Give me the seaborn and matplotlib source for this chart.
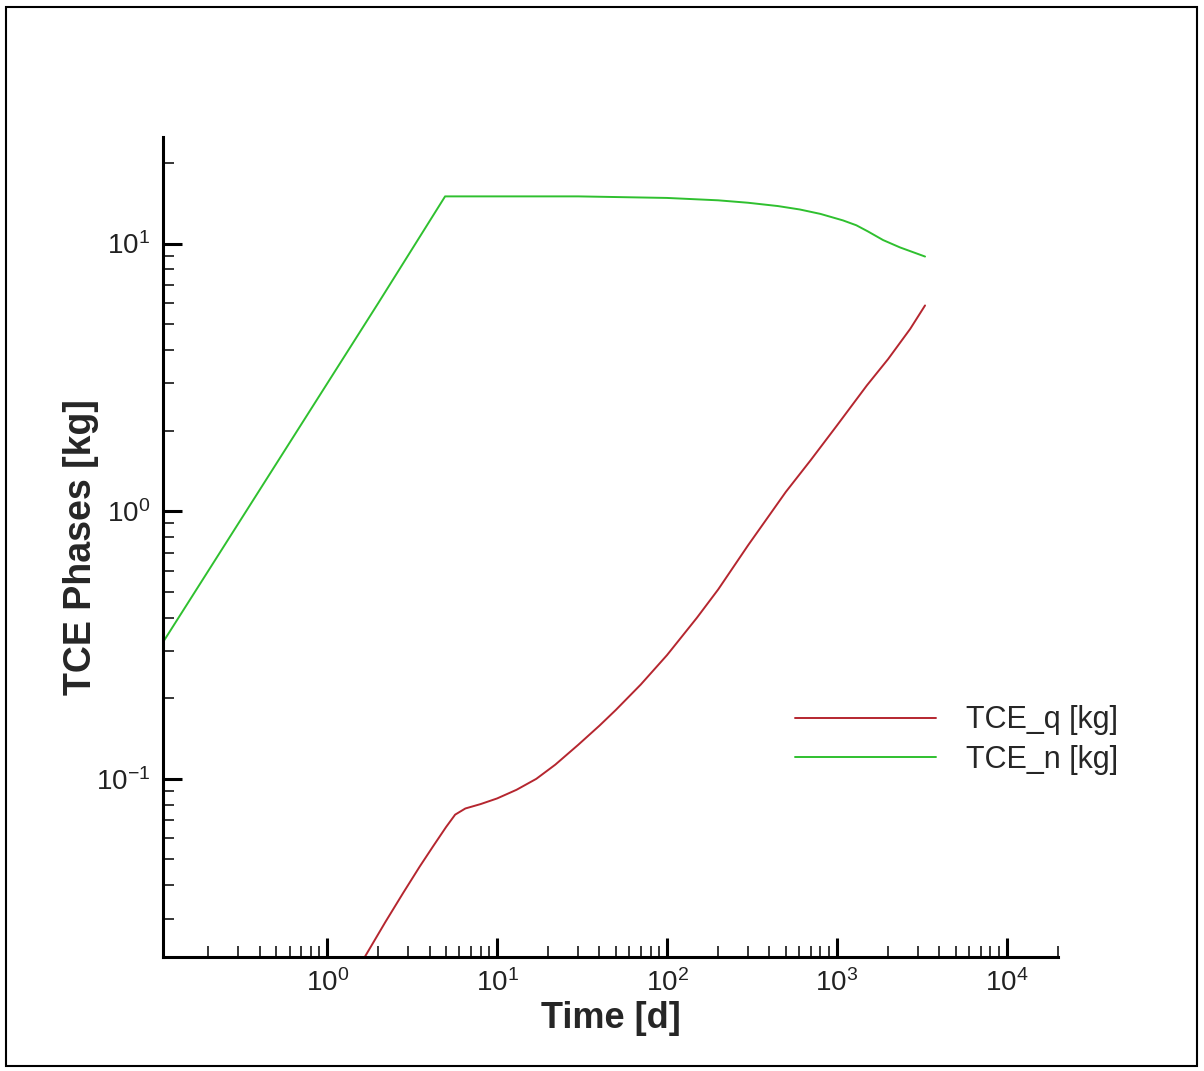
import pandas as pd
import matplotlib
matplotlib.use("Agg")
import matplotlib.pyplot as plt
import seaborn as sns
from matplotlib.patches import Rectangle
from matplotlib.ticker import LogLocator

# TCE mass in each phase over time
time_q = [1.5, 1.67, 2.2, 2.8, 3.5, 4.2, 5.0, 5.66, 6.5, 8, 10, 13, 17, 22, 30, 40, 50,
          70, 100, 150, 200, 300, 500, 700, 1000, 1500, 2000, 2700, 3300]
tce_q = [0.0195, 0.0217, 0.0292, 0.0375, 0.047, 0.056, 0.066, 0.0735, 0.0775, 0.0805,
         0.0845, 0.091, 0.100, 0.113, 0.134, 0.158, 0.181, 0.225, 0.29, 0.40, 0.51, 0.746, 1.18, 1.55,
         2.09, 2.95, 3.7, 4.8, 5.87]

time_n = [0.108, 0.5, 1, 2, 4.94, 10, 30, 100, 200, 300, 450, 605, 800, 1085, 1300, 1520, 1870, 2350, 3300]
tce_n = [0.324, 1.5, 3.0, 6.0, 15.0, 15.0, 15.0, 14.8, 14.5, 14.2, 13.8, 13.4, 12.9, 12.2, 11.7, 11.1,
         10.3, 9.67, 8.94]

series_names = ["TCE_q [kg]", "TCE_n [kg]"]
colors = {"TCE_q [kg]": "#b5262f", "TCE_n [kg]": "#2fc02f"}

df = pd.concat([
    pd.DataFrame({"Time": time_q, "Mass": tce_q, "Phase": series_names[0]}),
    pd.DataFrame({"Time": time_n, "Mass": tce_n, "Phase": series_names[1]}),
])

sns.set_style("white")
plt.rcParams["font.family"] = ["Liberation Sans", "DejaVu Sans"]
plt.rcParams["mathtext.default"] = "regular"

fig = plt.figure(figsize=(12.04, 10.71), dpi=100)
ax = fig.add_axes([163 / 1204, 1 - 957 / 1071, (1058 - 163) / 1204, (957 - 137) / 1071])

sns.lineplot(data=df, x="Time", y="Mass", hue="Phase", hue_order=series_names,
             palette=colors, linewidth=1.4, sort=False, estimator=None, ax=ax)

ax.set_xscale("log")
ax.set_yscale("log")
ax.set_xlim(0.108, 2e4)
ax.set_ylim(0.0216, 25)

ax.xaxis.set_major_locator(LogLocator(base=10, numticks=20))
ax.xaxis.set_minor_locator(LogLocator(base=10, subs=range(2, 10), numticks=20))
ax.yaxis.set_major_locator(LogLocator(base=10, numticks=20))
ax.yaxis.set_minor_locator(LogLocator(base=10, subs=range(2, 10), numticks=20))

for side in ["top", "right"]:
    ax.spines[side].set_visible(False)
for side in ["left", "bottom"]:
    ax.spines[side].set_linewidth(2.2)
    ax.spines[side].set_color("black")

ax.tick_params(which="both", bottom=True, left=True, top=False, right=False)
ax.tick_params(which="major", direction="in", length=13.5, width=2.2, labelsize=20, pad=9,
               colors="black", labelcolor="#222222")
ax.tick_params(which="minor", direction="in", length=8, width=1.1, colors="black")

ax.set_xlabel("Time [d]", fontsize=26, fontweight="bold", labelpad=2.5)
ax.set_ylabel("TCE Phases [kg]", fontsize=27, fontweight="bold", labelpad=-2)

leg = ax.legend(loc="center left", bbox_to_anchor=(795 / 1204, 1 - 740 / 1071),
                bbox_transform=fig.transFigure, frameon=False, fontsize=22,
                handlelength=4.6, handletextpad=1.0, labelspacing=0.3,
                borderpad=0, borderaxespad=0)
for line in leg.get_lines():
    line.set_linewidth(1.4)

fig.add_artist(Rectangle((6 / 1204, 5 / 1071), 1191 / 1204, 1059 / 1071, transform=fig.transFigure,
                         fill=False, edgecolor="black", linewidth=1.5))

fig.savefig("out.png", dpi=100)
